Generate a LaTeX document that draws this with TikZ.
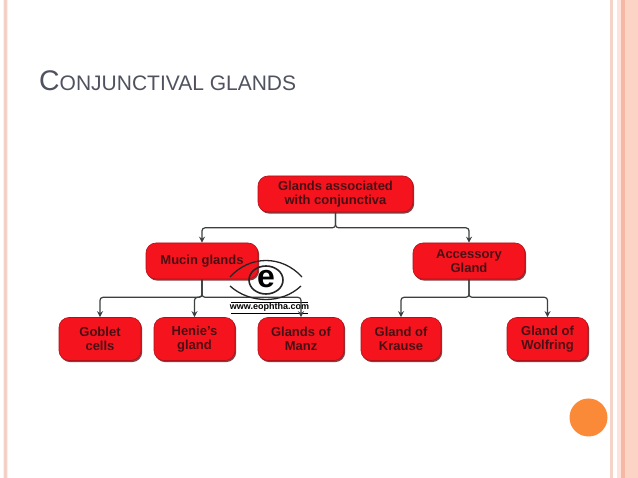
\documentclass[tikz,border=0pt]{standalone}
\usepackage{fontspec}
\setmainfont{Liberation Sans}
\usetikzlibrary{arrows.meta,shadows}
\definecolor{boxred}{HTML}{F5141E}
\definecolor{boxedge}{HTML}{B01018}
\definecolor{boxshadow}{HTML}{7A2A2E}
\definecolor{boxtext}{HTML}{4A0F14}
\definecolor{titlegrey}{HTML}{50525F}
\definecolor{stripeA}{HTML}{F6D3C8}
\definecolor{stripeB}{HTML}{FBC9B8}
\definecolor{stripeC}{HTML}{F4B8A4}
\definecolor{stripeD}{HTML}{FDE3DB}
\definecolor{dotorange}{HTML}{FB8A38}
\definecolor{connector}{HTML}{3A3F3F}
\tikzset{
  gland/.style={draw=boxedge,line width=0.6pt,fill=boxred,rounded corners=10pt,align=center,
    text=boxtext,font=\bfseries\fontsize{13}{14.6}\selectfont,inner sep=0pt,
    drop shadow={shadow xshift=1.2pt,shadow yshift=-1.6pt,fill=boxshadow,opacity=0.9}},
  conn/.style={draw=connector,line width=1.2pt,rounded corners=3pt,-{Stealth[length=6pt,width=6pt]}},
  eyeline/.style={line width=1.3pt,draw=black!85},
}
\begin{document}
\begin{tikzpicture}[x=1pt,y=-1pt]
\useasboundingbox (0,0) rectangle (638,478);
\fill[white] (0,0) rectangle (638,478);
% side stripes
\fill[stripeD!60!white] (2.5,0) rectangle (8,478);
\fill[stripeA] (3.5,0) rectangle (7,478);
\fill[stripeB] (4.5,0) rectangle (6,478);
\fill[stripeA] (610,0) rectangle (613,478);
\fill[stripeD] (617,0) rectangle (621,478);
\fill[stripeC] (621,0) rectangle (624.5,478);
\fill[stripeB!80!white] (624.5,0) rectangle (638,478);
% title
\node[anchor=base west,inner sep=0pt,text=titlegrey] (title) at (39,91)
  {\fontsize{28.4}{30}\selectfont C\fontsize{21}{30}\selectfont ONJUNCTIVAL GLANDS};
% orange dot
\fill[dotorange] (588.5,417.5) circle (19);
% boxes
\node[gland,minimum width=155pt,minimum height=36pt] (top) at (335.5,194) {\raisebox{-1pt}{Glands associated}\\\raisebox{-1pt}{with conjunctiva}};
\node[gland,minimum width=112pt,minimum height=36pt] (mucin) at (202,261) {\raisebox{-1pt}{Mucin glands}};
\node[gland,minimum width=112pt,minimum height=36pt] (acc) at (469,261) {\raisebox{-1pt}{Accessory}\\\raisebox{-1pt}{Gland}};
\node[gland,minimum width=82pt,minimum height=43pt] (goblet) at (100,339) {Goblet\\cells};
\node[gland,minimum width=81pt,minimum height=43pt] (henle) at (194.5,339) {Henie's\\gland};
\node[gland,minimum width=86pt,minimum height=43pt] (manz) at (301,339) {Glands of\\Manz};
\node[gland,minimum width=80pt,minimum height=43pt] (krause) at (401,339) {Gland of\\Krause};
\node[gland,minimum width=81pt,minimum height=43pt] (wolf) at (547.5,339) {Gland of\\Wolfring};
% eye watermark lines beneath the connectors
\draw[line width=0.8pt] (231,302) -- (308,302);
\draw[line width=0.8pt] (231,313) -- (308,313);
\node[font=\bfseries\fontsize{9}{9}\selectfont,inner sep=0pt] (www) at (269.5,307.5) {www.eophtha.com};
% connectors
\draw[conn] (top.south) -- ++(0,15.5) -| (mucin.north);
\draw[conn] (top.south) -- ++(0,15.5) -| (acc.north);
\draw[conn] (mucin.south) -- ++(0,18) -| (goblet.north);
\draw[conn] (mucin.south) -- ++(0,18) -| (henle.north);
\draw[conn] (mucin.south) -- ++(0,18) -| (manz.north);
\draw[conn] (acc.south) -- ++(0,18) -| (krause.north);
\draw[conn] (acc.south) -- ++(0,18) -| (wolf.north);
% eye
\draw[eyeline] (230,277) .. controls (250,255) and (282,255) .. (302,277);
\draw[eyeline] (230,286) .. controls (250,304) and (282,304) .. (301,286);
\draw[line width=1.6pt,draw=black!85] (266,280) ellipse (17 and 14);
\node[font=\bfseries\fontsize{32}{32}\selectfont,inner sep=0pt,text=black] (ee) at (266,279) {e};
\end{tikzpicture}
\end{document}
